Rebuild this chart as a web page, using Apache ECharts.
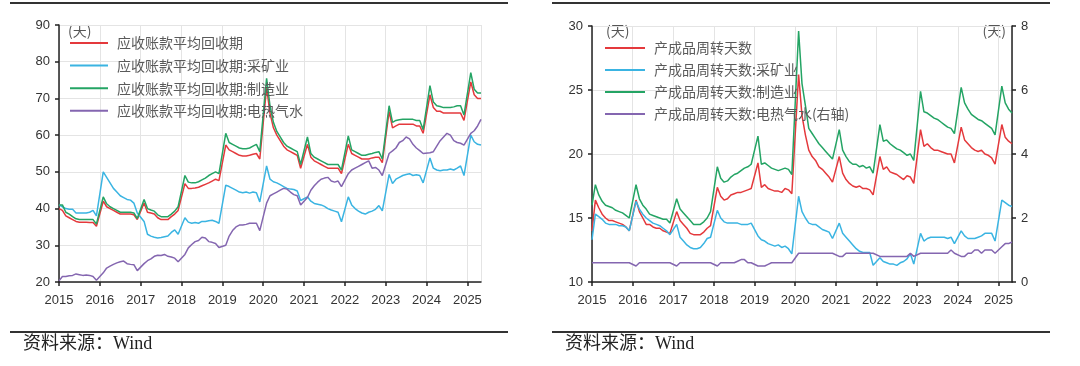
<!DOCTYPE html>
<html><head><meta charset="utf-8">
<script src="https://cdn.jsdelivr.net/npm/echarts@6/dist/echarts.min.js"></script>
<style>html,body{margin:0;padding:0;background:#fff}#c{width:1080px;height:366px}</style>
</head><body><div id="c"></div>
<script>
// ---- time points (month strings): Jan 2015, then Feb–Dec each year (Jan–Feb combined), up to May 2025
const months = ['2015-01'];
for (let y = 2015; y <= 2025; y++) {
  for (let m = 2; m <= 12; m++) {
    if (y === 2025 && m > 5) break;
    months.push(y + '-' + String(m).padStart(2, '0'));
  }
}
const xTicks = ['2015','2016','2017','2018','2019','2020','2021','2022','2023','2024','2025'];

// ---- Left chart: 应收账款平均回收期 (天)
const leftNames = ['应收账款平均回收期','应收账款平均回收期:采矿业','应收账款平均回收期:制造业','应收账款平均回收期:电热气水'];
const arTotal = [40,
  39.5,38,37.5,37,36.5,36.3,36.3,36.3,36.2,36.2,35.2,
  42,40.5,40,39.5,39,38.5,38.5,38.5,38.5,38.3,37,
  41.5,39,38.8,38.5,37.5,37,37,37,37.8,38.5,39.5,
  46.8,45.5,45.5,45.6,45.8,46.2,46.6,47,47.5,48,47.6,
  57.3,56,55.5,55,54.5,54.3,54.3,54.5,54.8,55,53.5,
  73,66,62,60,58.5,57,56,55.5,55,54.5,51,
  57.5,54,53,52.5,52,51.5,51,51,51,51,49.5,
  57.5,55,54.5,54,53.5,53.5,53.5,53.8,54,54,52.5,
  66.5,62,62.5,63,63,63,63,63,62.5,62.5,60.5,
  71,67.5,66.5,66.5,66,66,66,66,66,66,64,
  74.5,71,70,70];
const arMining = [41,
  40.5,40,39.8,39.8,38.8,38.8,38.8,38.8,39,39.5,38,
  50,48.5,47,45.5,44.5,43.5,43,42.5,42.3,41.5,38.8,
  36.5,33,32.5,32.2,32,32.1,32.3,32.5,33.5,34.2,33,
  37.5,36.3,36,36.2,36,36.5,36.5,36.7,36.8,36.5,36,
  46.4,46,45.5,45,44.5,44.3,44.5,44.2,44.5,44.3,41.8,
  51.6,48,47.3,47,46.5,46,45.5,45.3,45.2,44.8,42.2,
  43.2,42,41.4,41.2,41,40.6,40,39.6,39.3,39,36.4,
  43.2,41,40,39.3,38.8,38.5,39,39.3,39.8,40.8,39.4,
  49.3,46.8,48,48.5,49,49.3,49.5,49,49.2,49,47,
  53.8,51,50.5,50.3,50.5,50.5,50.8,50.5,51,51.6,49,
  60,58.2,57.5,57.3];
const arManuf = [41,
  41,39,38.5,37.8,37.2,37,37,37,37,37,35.8,
  43.2,41.3,40.5,40,39.5,39,39,39,39,38.8,37.3,
  42.5,40,39.6,39.3,38.3,37.8,37.8,37.8,38.5,39.3,40.5,
  49,47.2,47,47,47.3,47.8,48.3,49,49.5,50,49.5,
  60.5,58,57.5,57,56.5,56.3,56.3,56.5,57,57.5,55.5,
  75.5,68,63.5,61,59.5,58,57,56.5,56,55.5,52,
  59.5,55,54,53.5,53,52.5,52,52,52,52,50.5,
  59.8,56,55.5,55,54.5,54.5,54.8,55,55.3,55.5,53.5,
  68,63.5,64,64.2,64.3,64.3,64.3,64.3,64,64,61.5,
  73.5,69,68,67.8,67.5,67.5,67.5,67.7,68,68,65.5,
  77,72.5,71.5,71.5];
const arUtil = [20.3,
  21.5,21.5,21.7,21.8,22.2,22,21.8,21.9,21.8,21.5,20.5,
  22.5,23.8,24.3,24.8,25.2,25.5,25.7,25,24.8,24.7,23.1,
  25,25.8,26.3,27,27.3,27.2,27.5,27,26.8,26.5,25.5,
  27.5,29.3,30.2,31,31.3,32.2,32,31,30.8,30.5,29.4,
  30,32.5,34,35,35.5,35.5,35.7,36,36,36,34,
  41.5,43.5,44,44.5,45,45.5,45.3,44.5,43.8,43.5,41,
  43,45,46.2,47.2,48,48.3,48.5,47.5,47.2,47.5,46,
  49.5,50.5,51,51.5,52,52.5,53,51,51.2,50.5,49,
  55,55.7,56.5,58,58.5,59.5,59,57.5,56.5,55.8,55,
  55.2,55.5,57,58.5,59.5,60.5,60,58.5,58,57.8,57.3,
  60.5,61.2,62.5,64.3];

// ---- Right chart: 产成品周转天数 (天)
const rightNames = ['产成品周转天数','产成品周转天数:采矿业','产成品周转天数:制造业','产成品周转天数:电热气水(右轴)'];
const invTotal = [14.0,
  16.4,15.8,15.3,15,14.8,14.8,14.7,14.6,14.5,14.3,14,
  16.4,15.5,15,14.5,14.5,14.3,14.2,14.2,14,13.9,13.8,
  15.5,14.8,14.5,14.2,13.8,13.7,13.7,13.7,13.9,14.2,14.4,
  17.4,16.7,16.4,16.5,16.8,16.9,17,17,17.1,17.2,17.3,
  19.3,17.4,17.6,17.3,17.2,17.1,17.1,17,17.3,17.2,16.9,
  26.2,23,21.5,20.3,19.8,19.5,19,18.8,18.5,18.2,17.8,
  19.8,18.5,18,17.7,17.5,17.4,17.5,17.3,17.3,17.2,16.8,
  19.8,18.8,19,18.6,18.5,18.4,18.2,18,18.3,18.2,17.7,
  21.9,20.6,20.8,20.5,20.3,20.3,20.2,20.1,20,20,19.3,
  22.1,21.1,20.8,20.5,20.3,20.2,20.3,20,19.9,19.7,19.2,
  22.3,21.3,21,20.8];
const invMining = [13.3,
  15.3,15.1,14.9,14.6,14.5,14.5,14.5,14.4,14.4,14.3,14,
  16.3,15.7,15.3,15,14.8,14.6,14.5,14.4,14.2,14,13.7,
  14.5,13.5,13.2,12.9,12.7,12.6,12.6,12.7,13,13.4,13.5,
  15.6,15,14.7,14.6,14.6,14.6,14.6,14.5,14.5,14.5,14.6,
  13.6,13.3,13.2,13,12.9,12.8,12.9,12.7,12.8,12.6,12.2,
  16.7,15.5,15,14.6,14.5,14.5,14.3,14.1,14,13.9,13.4,
  14.6,13.8,13.5,13.2,12.9,12.6,12.4,12.3,12.3,12.3,11.3,
  11.9,11.6,11.5,11.4,11.4,11.3,11.5,11.6,11.8,12.2,11.4,
  13.8,13.2,13.4,13.5,13.5,13.5,13.5,13.5,13.4,13.5,13,
  14,13.6,13.4,13.4,13.4,13.5,13.6,13.8,13.8,13.8,13.2,
  16.4,16.2,16,15.9];
const invManuf = [16,
  17.6,16.8,16.3,16,15.9,15.8,15.6,15.5,15.4,15.2,15,
  17.6,16.5,16,15.7,15.3,15.2,15.1,15,14.9,14.9,14.6,
  16.5,15.7,15.4,15.1,14.8,14.5,14.5,14.5,14.7,15,15.5,
  19,18.1,17.8,17.9,18.2,18.4,18.5,18.7,18.9,19,19.2,
  21.4,19.2,19.3,19.1,18.9,18.8,18.7,18.8,18.9,18.8,18.4,
  29.6,25.5,23.8,22,21.6,21.2,20.8,20.5,20.2,19.9,19.6,
  21.9,20.3,19.8,19.4,19.2,19.2,19,19.1,18.9,19,18.5,
  22.3,21,21.1,20.8,20.6,20.4,20.3,20.1,19.9,20,19.5,
  24.9,23.3,23.2,23,22.8,22.7,22.5,22.3,22.1,22,21.6,
  25.2,24,23.5,23.1,22.9,22.7,22.6,22.4,22.2,22,21.5,
  25.3,24,23.5,23.2];
const invUtil = [0.6,
  0.6,0.6,0.6,0.6,0.6,0.6,0.6,0.6,0.6,0.6,0.6,
  0.5,0.6,0.6,0.6,0.6,0.6,0.6,0.6,0.6,0.6,0.6,
  0.5,0.6,0.6,0.6,0.6,0.6,0.6,0.6,0.6,0.6,0.6,
  0.5,0.6,0.6,0.6,0.6,0.6,0.65,0.7,0.7,0.6,0.6,
  0.5,0.5,0.5,0.55,0.6,0.6,0.6,0.6,0.6,0.6,0.6,
  0.9,0.9,0.9,0.9,0.9,0.9,0.9,0.9,0.9,0.9,0.9,
  0.8,0.8,0.9,0.9,0.9,0.9,0.9,0.9,0.9,0.9,0.9,
  0.8,0.8,0.8,0.8,0.8,0.8,0.8,0.8,0.8,0.9,0.8,
  0.9,0.9,0.9,0.9,0.9,0.9,0.9,0.9,0.9,1.0,0.9,
  0.8,0.8,0.9,0.9,1.0,1.0,0.9,1.0,1.0,1.0,0.9,
  1.1,1.2,1.2,1.25];

const colors = ['#e4393c', '#3ab4e2', '#24a464', '#8466b0'];

const toX = s => Number(s.slice(0, 4)) + (Number(s.slice(5)) - 1) / 12;
const pts = arr => months.map((m, i) => [toX(m), arr[i]]);

const labelFont = { color: '#333', fontSize: 13, fontFamily: 'Liberation Sans, Arial, sans-serif' };
const axLine = { show: true, lineStyle: { color: '#222', width: 1.5 } };
const grid = { show: true, lineStyle: { color: '#e4e4e4', width: 1 } };

function xAxis(gi) {
  return {
    type: 'value', gridIndex: gi, min: Number(xTicks[0]), max: Number(xTicks[xTicks.length - 1]) + 4 / 12, interval: 1,
    axisLine: axLine, axisTick: { show: true, length: 4, lineStyle: { color: '#222', width: 1.5 } },
    axisLabel: Object.assign({ margin: 12, showMaxLabel: false, formatter: v => String(Math.round(v)) }, labelFont),
    splitLine: grid
  };
}
function yAxis(gi, min, max, interval, pos, split) {
  return {
    type: 'value', gridIndex: gi, min, max, interval, position: pos,
    axisLine: axLine, axisTick: { show: true, length: 4, lineStyle: { color: '#222', width: 1.5 } },
    axisLabel: Object.assign({ margin: 9 }, labelFont),
    splitLine: split ? grid : { show: false }
  };
}
function line(name, data, color, xi, yi) {
  return { type: 'line', name, data, xAxisIndex: xi, yAxisIndex: yi, symbol: 'none',
    lineStyle: { color, width: 1.5 }, itemStyle: { color }, animation: false };
}
const legendText = { color: '#5a5a5a', fontSize: 14, fontFamily: 'Noto Sans CJK SC', padding: [0, 0, 0, 4] };

const option = {
  animation: false,
  grid: [
    { left: 59, top: 25, width: 422, height: 257, containLabel: false },
    { left: 592, top: 26, width: 420, height: 256, containLabel: false }
  ],
  xAxis: [xAxis(0), xAxis(1)],
  yAxis: [
    yAxis(0, 20, 90, 10, 'left', true),
    yAxis(1, 10, 30, 5, 'left', true),
    yAxis(1, 0, 8, 2, 'right', false)
  ],
  legend: [
    { data: leftNames, orient: 'vertical', left: 65, top: 31, itemWidth: 38, itemHeight: 2, itemGap: 8.6,
      icon: 'rect', textStyle: legendText, selectedMode: false },
    { data: rightNames, orient: 'vertical', left: 600, top: 36, itemWidth: 40, itemHeight: 2, itemGap: 8,
      icon: 'rect', textStyle: legendText, selectedMode: false }
  ],
  series: [
    line(leftNames[0], pts(arTotal), colors[0], 0, 0),
    line(leftNames[1], pts(arMining), colors[1], 0, 0),
    line(leftNames[2], pts(arManuf), colors[2], 0, 0),
    line(leftNames[3], pts(arUtil), colors[3], 0, 0),
    line(rightNames[0], pts(invTotal), colors[0], 1, 1),
    line(rightNames[1], pts(invMining), colors[1], 1, 1),
    line(rightNames[2], pts(invManuf), colors[2], 1, 1),
    line(rightNames[3], pts(invUtil), colors[3], 1, 2)
  ],
  graphic: [
    { type: 'rect', shape: { x: 10, y: 2, width: 498, height: 2 }, style: { fill: '#333' } },
    { type: 'rect', shape: { x: 552, y: 2, width: 498, height: 2 }, style: { fill: '#333' } },
    { type: 'rect', shape: { x: 10, y: 331, width: 498, height: 2 }, style: { fill: '#333' } },
    { type: 'rect', shape: { x: 552, y: 331, width: 498, height: 2 }, style: { fill: '#333' } },
    { type: 'text', x: 68, y: 31, style: { text: '(天)', fill: '#555', font: '14px "Noto Sans CJK SC"', textVerticalAlign: 'middle' } },
    { type: 'text', x: 606, y: 31, style: { text: '(天)', fill: '#555', font: '14px "Noto Sans CJK SC"', textVerticalAlign: 'middle' } },
    { type: 'text', x: 1006, y: 31, style: { text: '(天)', fill: '#555', font: '14px "Noto Sans CJK SC"', textAlign: 'right', textVerticalAlign: 'middle' } },
    { type: 'text', x: 23, y: 344, style: { text: '资料来源：Wind', fill: '#222', font: '18px "Liberation Serif", "Noto Sans CJK SC"', textVerticalAlign: 'middle' } },
    { type: 'text', x: 565, y: 344, style: { text: '资料来源：Wind', fill: '#222', font: '18px "Liberation Serif", "Noto Sans CJK SC"', textVerticalAlign: 'middle' } }
  ]
};
echarts.init(document.getElementById('c'), null, { renderer: 'canvas' }).setOption(option);
</script>
</body></html>
